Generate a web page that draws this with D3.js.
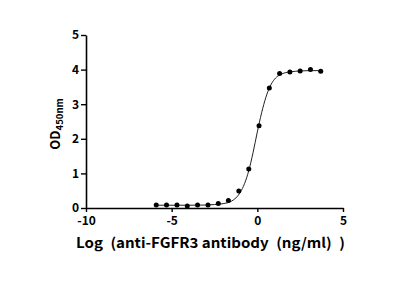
<!DOCTYPE html>
<html><head><meta charset="utf-8">
<script src="https://cdn.jsdelivr.net/npm/d3@7/dist/d3.min.js"></script>
<style>body{margin:0;background:#fff}svg{display:block}</style>
</head><body><svg id="c" width="403" height="284"></svg>
<script>
const logConc = [-5.9,-5.3,-4.69,-4.09,-3.49,-2.88,-2.28,-1.69,-1.08,-0.5,0.1,0.7,1.3,1.9,2.5,3.1,3.7];
const od = [0.09,0.09,0.09,0.06,0.09,0.09,0.13,0.22,0.49,1.13,2.38,3.47,3.89,3.93,3.96,4.0,3.95];
const fitX = [-5.9,-4,-3,-2.5,-2,-1.5,-1,-0.75,-0.5,-0.25,0,0.25,0.5,0.75,1,1.25,1.5,2,2.5,3,3.7];
const fitY = [0.08,0.08,0.085,0.1,0.125,0.2,0.45,0.7,1.08,1.6,2.2,2.75,3.2,3.52,3.72,3.83,3.89,3.94,3.96,3.97,3.97];
const xTicks = [-10,-5,0,5];
const yTicks = [0,1,2,3,4,5];

const svg = d3.select("#c");
const x = d3.scaleLinear().domain([-10,5]).range([86,343]);
const y = d3.scaleLinear().domain([0,5]).range([208,35]);

const xa = svg.append("g").attr("transform","translate(0,208)")
  .call(d3.axisBottom(x).tickValues(xTicks).tickSize(4).tickSizeOuter(0).tickPadding(4).tickFormat(d3.format("d")));
const ya = svg.append("g").attr("transform","translate(86,0)")
  .call(d3.axisLeft(y).tickValues(yTicks).tickSize(5).tickSizeOuter(0).tickPadding(2).tickFormat(d3.format("d")));
[xa,ya].forEach(a=>{
  a.select(".domain").attr("stroke","#000").attr("stroke-width",1.6);
  a.selectAll(".tick line").attr("stroke","#000").attr("stroke-width",1.4);
  a.selectAll("text").attr("fill","#000").style("font-family","'Noto Sans CJK SC','Open Sans',sans-serif")
   .style("font-weight","bold").style("font-size","12px");
});
xa.selectAll("text").text(d=>d<0?"-"+Math.abs(d):d);

const line = d3.line().x((d,i)=>x(fitX[i])).y((d,i)=>y(fitY[i])).curve(d3.curveMonotoneX);
svg.append("path").attr("d",line(fitX)).attr("fill","none").attr("stroke","#222").attr("stroke-width",1);

svg.append("g").selectAll("circle").data(logConc).join("circle")
  .attr("cx",(d)=>x(d)).attr("cy",(d,i)=>y(od[i])).attr("r",2.5).attr("fill","#000");

svg.append("text").attr("x",76).attr("y",247.5)
  .attr("textLength",269).attr("lengthAdjust","spacingAndGlyphs")
  .style("font-family","'Noto Sans CJK SC',sans-serif").style("font-weight","bold").style("font-size","14px")
  .text("Log\u2002(anti-FGFR3 antibody\u2002(ng/ml)\u2002)");

const yl = svg.append("text").attr("transform","translate(60,124) rotate(-90)").attr("text-anchor","middle")
  .style("font-family","'Noto Sans CJK SC',sans-serif").style("font-weight","bold").style("font-size","13px");
yl.append("tspan").text("OD");
yl.append("tspan").attr("dy",3).style("font-size","9.5px").text("450nm");
</script></body></html>
